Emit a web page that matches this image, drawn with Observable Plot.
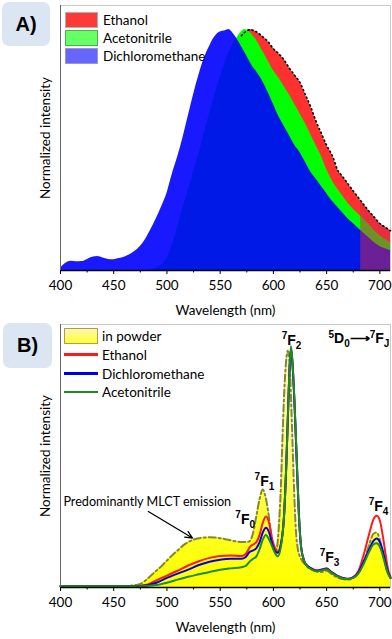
<!DOCTYPE html>
<html>
<head>
<meta charset="utf-8">
<script src="https://cdn.jsdelivr.net/npm/d3@7"></script>
<script src="https://cdn.jsdelivr.net/npm/@observablehq/plot@0.6"></script>
<style>
  html, body { margin: 0; padding: 0; background: #fff; }
  #wrap { position: relative; width: 392px; height: 639px; overflow: hidden; font-family: Lato, "Open Sans", sans-serif; }
  .panel { position: absolute; left: 0; }
  .tag { position: absolute; background: #dbe6f2; border-radius: 7px; font: bold 20px "Liberation Sans", Arial, sans-serif; display: flex; align-items: center; justify-content: center; color: #000; }
  .leg { position: absolute; font: 13.5px Lato, sans-serif; color: #000; white-space: nowrap; line-height: 18px; }
  .box { position: absolute; width: 33px; height: 16px; box-sizing: border-box; }
  .ln { position: absolute; width: 34px; height: 2.5px; }
</style>
</head>
<body>
<div id="wrap">
  <div id="pa" class="panel" style="top:0"></div>
  <div id="pb" class="panel" style="top:320px"></div>
  <div class="tag" style="left:2px;top:2px;width:48px;height:44px">A)</div>
  <div class="tag" style="left:3px;top:323px;width:49px;height:45px">B)</div>
  <div id="legA"></div>
  <div id="legB"></div>
</div>
<script>
// ---------------- Panel A data (normalized emission, filled areas) ----------------
const wlA_eth = [400,480,490,500,505,510,515,520,525,530,535,540,545,550,555,560,565,570,575,578,582,590,595,600,605,609,615,620,625,630,635,640,645,650,656,660,665,670,675,682,690,695,700,705,710];
const intA_eth = [0,0,0.01,0.04,0.08,0.14,0.21,0.29,0.37,0.45,0.53,0.61,0.69,0.76,0.83,0.89,0.94,0.975,0.995,1.0,0.995,0.97,0.95,0.92,0.9,0.88,0.84,0.81,0.78,0.73,0.68,0.62,0.57,0.52,0.47,0.42,0.39,0.36,0.33,0.29,0.245,0.22,0.195,0.18,0.165];

const wlA_acn = [400,485,490,500,506,510,515,520,525,531,535,540,545,550,555,560,565,570,573,580,585,590,595,600,605,610,615,620,625,630,635,640,645,650,655,660,665,670,675,682,690,695,700,705,710];
const intA_acn = [0,0,0.01,0.05,0.12,0.18,0.26,0.33,0.41,0.5,0.57,0.65,0.73,0.8,0.87,0.92,0.96,0.99,1.0,0.98,0.95,0.91,0.87,0.83,0.8,0.765,0.73,0.69,0.65,0.61,0.565,0.52,0.475,0.42,0.375,0.34,0.31,0.28,0.255,0.225,0.19,0.165,0.145,0.13,0.115];

const wlA_dcm = [400,405,410,415,420,425,430,435,440,445,450,455,460,465,470,475,480,485,490,495,500,505,510,515,520,525,530,535,540,545,550,555,558,562,566,570,575,580,585,590,595,600,605,610,615,620,625,630,635,640,645,650,655,660,665,670,675,682,690,695,700,705,710];
const intA_dcm = [0.01,0.03,0.038,0.036,0.037,0.045,0.055,0.058,0.052,0.046,0.045,0.05,0.055,0.065,0.08,0.1,0.13,0.17,0.215,0.265,0.32,0.4,0.47,0.55,0.64,0.73,0.81,0.88,0.93,0.97,0.99,0.995,1.0,0.985,0.96,0.93,0.89,0.85,0.82,0.785,0.74,0.69,0.64,0.6,0.56,0.52,0.49,0.45,0.41,0.38,0.35,0.32,0.29,0.265,0.24,0.215,0.195,0.166,0.135,0.115,0.1,0.09,0.083];

// ---------------- Panel B data ----------------
const wlB_pow = [400,460,470,475,480,485,490,495,500,505,510,515,520,525,530,535,540,545,550,555,560,565,570,575,578,581,584,587,590,592,595,598,601,603,605,607,608.5,610,612,613.5,615,616.5,618,619.5,621,623,626,630,636,640,645,650,655,660,665,670,675,680,685,690,694,697,700,703,706,710];
const intB_pow = [0.005,0.006,0.01,0.015,0.03,0.05,0.07,0.09,0.113,0.135,0.155,0.175,0.19,0.2,0.206,0.209,0.21,0.209,0.206,0.202,0.197,0.193,0.19,0.19,0.195,0.23,0.3,0.37,0.41,0.39,0.32,0.22,0.15,0.16,0.25,0.42,0.62,0.8,0.95,0.99,0.95,0.8,0.6,0.4,0.25,0.16,0.12,0.095,0.075,0.068,0.065,0.07,0.055,0.042,0.035,0.033,0.04,0.06,0.11,0.18,0.225,0.23,0.2,0.14,0.08,0.04];

const wlB_sol = [400,470,480,490,500,510,520,530,540,550,560,570,574,578,581,584,587,590,593,596,599,602,604,607,610,612,613.5,615,616.5,618,620,622,624,626,629,632,636,640,645,650,655,660,665,670,675,680,685,690,694,697,700,703,706,708,710];
const intB_eth = [0.005,0.006,0.01,0.03,0.05,0.07,0.092,0.11,0.124,0.132,0.134,0.132,0.14,0.17,0.18,0.19,0.22,0.27,0.297,0.27,0.2,0.16,0.15,0.18,0.3,0.5,0.7,0.9,1.0,0.93,0.75,0.52,0.3,0.17,0.11,0.09,0.08,0.072,0.075,0.08,0.063,0.05,0.04,0.037,0.044,0.07,0.14,0.225,0.285,0.3,0.28,0.21,0.12,0.07,0.045];
const intB_dcm = [0.005,0.005,0.008,0.02,0.04,0.058,0.075,0.094,0.108,0.116,0.12,0.12,0.128,0.15,0.155,0.165,0.19,0.23,0.25,0.23,0.18,0.15,0.145,0.18,0.3,0.5,0.7,0.9,1.0,0.93,0.75,0.52,0.3,0.17,0.11,0.09,0.078,0.07,0.073,0.078,0.062,0.049,0.04,0.036,0.042,0.065,0.11,0.16,0.195,0.205,0.19,0.15,0.09,0.06,0.04];
const intB_acn = [0.005,0.005,0.006,0.01,0.02,0.033,0.045,0.055,0.065,0.074,0.08,0.085,0.09,0.11,0.12,0.13,0.16,0.2,0.22,0.2,0.17,0.14,0.13,0.17,0.3,0.5,0.7,0.9,1.01,0.94,0.76,0.53,0.3,0.17,0.11,0.088,0.076,0.068,0.071,0.076,0.06,0.047,0.038,0.035,0.04,0.06,0.1,0.15,0.18,0.185,0.17,0.13,0.08,0.055,0.04];

// annotations (panel B)
const annWl   = [617, 591.6, 573.5, 652.7, 698.7];
const annVal  = [1.035, 0.445, 0.285, 0.127, 0.34];
const annText = ["^7F_2", "^7F_1", "^7F_0", "^7F_3", "^7F_4"];
const transText = "^5D_0⟶^7F_J";
const mlctText = "Predominantly MLCT emission";
const mlctPos = {wl: 481.5, v: 0.357};
const mlctArrow = [{x1: 482.5, y1: 0.318, x2: 524, y2: 0.207}];

// ticks
const majorTicks = [400, 450, 500, 550, 600, 650, 700];
const minorTicks = [425, 475, 525, 575, 625, 675];
const xDomain = [400, 710];

// legends
const legA = [
  {name: "Ethanol", color: "#ff3838", border: "#b0b0b0"},
  {name: "Acetonitrile", color: "#66ff66", border: "#4caf4c"},
  {name: "Dichloromethane", color: "#6666ff", border: "#9a9ac8"}
];
const legB = [
  {name: "in powder", kind: "box"},
  {name: "Ethanol", color: "#ff1a1a"},
  {name: "Dichloromethane", color: "#0000ee"},
  {name: "Acetonitrile", color: "#1e8c1e"}
];

const tbl = (w, v) => w.map((d, i) => ({wl: d, v: v[i]}));
const ethA = tbl(wlA_eth, intA_eth), acnA = tbl(wlA_acn, intA_acn), dcmA = tbl(wlA_dcm, intA_dcm);
const powB = tbl(wlB_pow, intB_pow), ethB = tbl(wlB_sol, intB_eth), dcmB = tbl(wlB_sol, intB_dcm), acnB = tbl(wlB_sol, intB_acn);
const anns = annWl.map((w, i) => ({wl: w, v: annVal[i], t: annText[i]}));

const common = {
  width: 392, marginLeft: 60, marginRight: 2,
  x: {domain: xDomain},
  y: {domain: [0, 1.1], axis: null},
  style: {fontFamily: "Lato, sans-serif", fontSize: "13px", color: "#000", background: "transparent", overflow: "visible"}
};
const axisMarks = () => [
  Plot.ruleY([0], {stroke: "#000", strokeWidth: 1.3}),
  Plot.ruleX([400], {stroke: "#666", strokeWidth: 1}),
  Plot.axisX({ticks: majorTicks, tickSize: 4, tickPadding: 6, label: null, tickFormat: d => d, fontSize: 13.5}),
  Plot.axisX({ticks: minorTicks, tickSize: 2.5, label: null, tickFormat: () => ""}),
  Plot.text(["Wavelength (nm)"], {frameAnchor: "bottom", dy: 44, fontSize: 13.5}),
  Plot.text(["Normalized intensity"], {frameAnchor: "left", textAnchor: "middle", rotate: -90, dx: -15, fontSize: 13.5})
];
const cx = {x: "wl", y: "v", curve: "monotone-x"};

const chartA = Plot.plot({
  ...common, height: 320, marginTop: 5, marginBottom: 50,
  marks: [
    Plot.frame({stroke: "#c8c8c8"}),
    Plot.areaY(ethA, {...cx, fill: "#ff3030"}),
    Plot.areaY(acnA, {...cx, fill: "#00ff00"}),
    Plot.areaY(dcmA, {...cx, fill: "#0000ff", fillOpacity: 0.9}),
    Plot.areaY(ethA, {...cx, filter: d => d.wl >= 682, fill: "#d82848", fillOpacity: 0.5}),
    Plot.lineY(ethA, {...cx, filter: d => d.wl >= 570, stroke: "#000", strokeWidth: 1.6, strokeDasharray: "1.2,3"}),
    ...axisMarks()
  ]
});
document.getElementById("pa").appendChild(chartA);

const gradDefs = () => {
  const ns = "http://www.w3.org/2000/svg";
  const defs = document.createElementNS(ns, "defs");
  defs.innerHTML = '<linearGradient id="powg" x1="0" y1="0" x2="0" y2="1">' +
    '<stop offset="0" stop-color="#fff7cc"/><stop offset="0.45" stop-color="#fffa80"/>' +
    '<stop offset="0.75" stop-color="#ffff20"/><stop offset="1" stop-color="#ffff00"/></linearGradient>';
  return defs;
};

const chartB = Plot.plot({
  ...common, height: 319, marginTop: 4, marginBottom: 52,
  marks: [
    gradDefs,
    Plot.frame({stroke: "#c8c8c8"}),
    Plot.areaY(powB, {...cx, fill: "url(#powg)"}),
    Plot.lineY(powB, {...cx, stroke: "#86862e", strokeWidth: 2, strokeDasharray: "7,3,2,3"}),
    Plot.lineY(ethB, {...cx, stroke: "#ff1a1a", strokeWidth: 2}),
    Plot.lineY(dcmB, {...cx, stroke: "#0000ee", strokeWidth: 2}),
    Plot.lineY(acnB, {...cx, stroke: "#1e8c1e", strokeWidth: 2}),
    Plot.text(anns, {x: "wl", y: "v", text: "t", fontSize: 14, fontWeight: "bold", fontFamily: "Liberation Sans, Arial, sans-serif"}),
    Plot.text([transText], {x: () => 709, y: () => 1.04, textAnchor: "end", fontSize: 14, fontWeight: "bold", fontFamily: "Liberation Sans, Arial, sans-serif"}),
    Plot.text([mlctText], {x: () => mlctPos.wl, y: () => mlctPos.v, fontSize: 12.6}),
    Plot.arrow(mlctArrow, {x1: "x1", y1: "y1", x2: "x2", y2: "y2", stroke: "#000", strokeWidth: 1.3, headLength: 9, headAngle: 50}),
    ...axisMarks()
  ]
});
document.getElementById("pb").appendChild(chartB);

// rich text: ^x superscript, _x subscript
d3.select(chartB).selectAll("text").each(function() {
  const s = this.textContent;
  if (!/[\^_]/.test(s)) return;
  const el = d3.select(this);
  el.text(null);
  let off = 0;
  const re = /([\^_])(.)|([^\^_]+)/g;
  let m;
  while ((m = re.exec(s))) {
    let target, size, txt;
    if (m[1] === "^") { target = -5.5; size = 10; txt = m[2]; }
    else if (m[1] === "_") { target = 4; size = 10; txt = m[2]; }
    else { target = 0; size = 14; txt = m[3]; }
    el.append("tspan").attr("dy", target - off).attr("font-size", size).text(txt);
    off = target;
  }
});

// legends (HTML, positioned above the charts)
const la = d3.select("#legA");
legA.forEach((d, i) => {
  const top = 12 + i * 18;
  la.append("div").attr("class", "box").style("left", "65px").style("top", top + "px")
    .style("background", d.color).style("border", "1px solid " + d.border);
  la.append("div").attr("class", "leg").style("left", "103px").style("top", (top - 1) + "px").text(d.name);
});
const lb = d3.select("#legB");
legB.forEach((d, i) => {
  const cy = [336, 354.5, 373.5, 392][i];
  if (d.kind === "box") {
    lb.append("div").attr("class", "box").style("left", "64px").style("top", (cy - 8) + "px").style("width", "34px")
      .style("background", "linear-gradient(#fff7b0, #ffff30)").style("border", "1px solid #a8a050");
  } else {
    lb.append("div").attr("class", "ln").style("left", "64px").style("top", (cy - 1.25) + "px").style("background", d.color);
  }
  lb.append("div").attr("class", "leg").style("left", "102px").style("top", (cy - 9) + "px").text(d.name);
});
</script>
</body>
</html>
